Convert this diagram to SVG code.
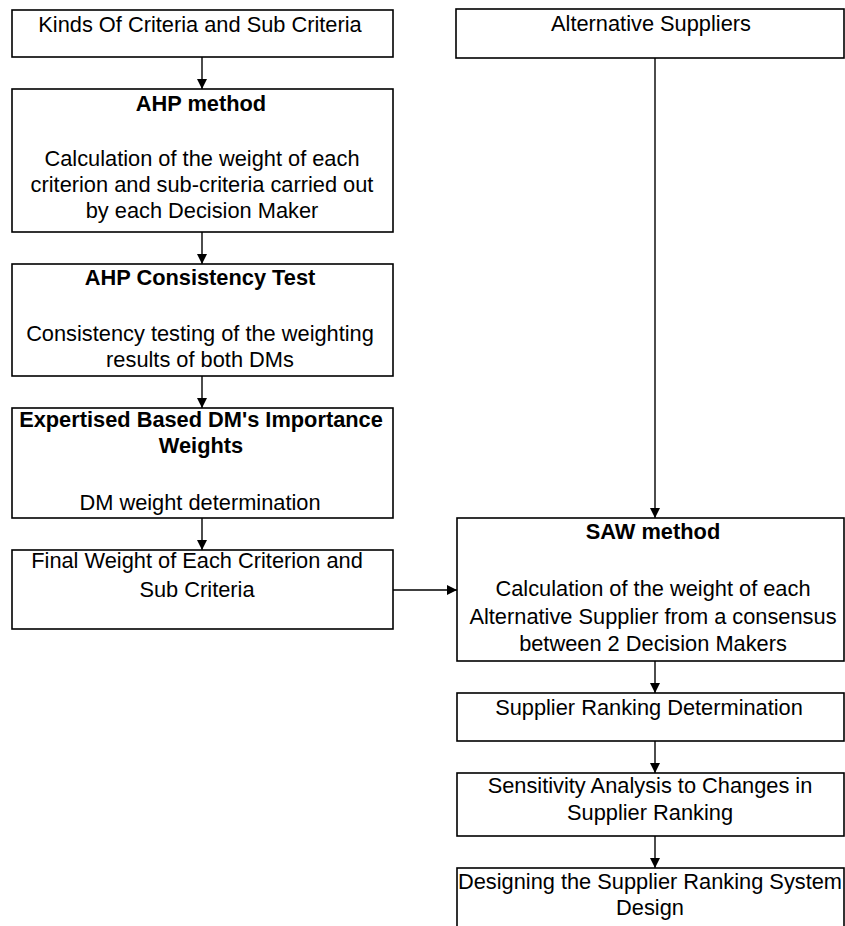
<svg xmlns="http://www.w3.org/2000/svg" width="845" height="926" viewBox="0 0 845 926">
<style>
.box{fill:#fff;stroke:#000;stroke-width:1.6}
.t{font-family:"Liberation Sans",Arial,sans-serif;font-size:21.8px;fill:#000;text-anchor:middle}
.b{font-weight:bold}
.c{fill:none;stroke:#000;stroke-width:1.4}
</style>
<defs>
<marker id="ah" viewBox="0 0 10 10" refX="10" refY="5" markerWidth="10" markerHeight="10" markerUnits="userSpaceOnUse" orient="auto">
<path d="M0,0 L10,5 L0,10 Z" fill="#000"/>
</marker>
</defs>
<rect width="845" height="926" fill="#fff"/>
<g id="connectors">
<line class="c" x1="202" y1="57" x2="202" y2="89" marker-end="url(#ah)"/>
<line class="c" x1="202" y1="232" x2="202" y2="264" marker-end="url(#ah)"/>
<line class="c" x1="202" y1="376" x2="202" y2="408" marker-end="url(#ah)"/>
<line class="c" x1="202" y1="518" x2="202" y2="550" marker-end="url(#ah)"/>
<line class="c" x1="393" y1="590" x2="457" y2="590" marker-end="url(#ah)"/>
<line class="c" x1="655" y1="58" x2="655" y2="518" marker-end="url(#ah)"/>
<line class="c" x1="655" y1="661" x2="655" y2="693" marker-end="url(#ah)"/>
<line class="c" x1="655" y1="741" x2="655" y2="773" marker-end="url(#ah)"/>
<line class="c" x1="655" y1="836" x2="655" y2="868" marker-end="url(#ah)"/>
</g>
<g id="kinds">
<rect class="box" x="12" y="10" width="381" height="47"/>
<text class="t" x="200" y="32">Kinds Of Criteria and Sub Criteria</text>
</g>
<g id="ahp">
<rect class="box" x="12" y="89" width="381" height="143"/>
<text class="t b" x="201" y="111">AHP method</text>
<text class="t" x="202" y="166">Calculation of the weight of each</text>
<text class="t" x="202" y="192">criterion and sub-criteria carried out</text>
<text class="t" x="202" y="218">by each Decision Maker</text>
</g>
<g id="consistency">
<rect class="box" x="12" y="264" width="381" height="112"/>
<text class="t b" x="200" y="285">AHP Consistency Test</text>
<text class="t" x="200" y="341">Consistency testing of the weighting</text>
<text class="t" x="200" y="367">results of both DMs</text>
</g>
<g id="expertise">
<rect class="box" x="12" y="408" width="381" height="110"/>
<text class="t b" x="201" y="427">Expertised Based DM's Importance</text>
<text class="t b" x="201" y="453">Weights</text>
<text class="t" x="200" y="510">DM weight determination</text>
</g>
<g id="final">
<rect class="box" x="12" y="550" width="381" height="79"/>
<text class="t" x="197" y="568">Final Weight of Each Criterion and</text>
<text class="t" x="197" y="597">Sub Criteria</text>
</g>
<g id="alternatives">
<rect class="box" x="456" y="9" width="388" height="49"/>
<text class="t" x="651" y="31">Alternative Suppliers</text>
</g>
<g id="saw">
<rect class="box" x="457" y="518" width="387" height="143"/>
<text class="t b" x="653" y="539">SAW method</text>
<text class="t" x="653" y="596">Calculation of the weight of each</text>
<text class="t" x="653" y="624">Alternative Supplier from a consensus</text>
<text class="t" x="653" y="651">between 2 Decision Makers</text>
</g>
<g id="ranking">
<rect class="box" x="457" y="693" width="387" height="48"/>
<text class="t" x="649" y="715">Supplier Ranking Determination</text>
</g>
<g id="sensitivity">
<rect class="box" x="457" y="773" width="387" height="63"/>
<text class="t" x="650" y="793">Sensitivity Analysis to Changes in</text>
<text class="t" x="650" y="820">Supplier Ranking</text>
</g>
<g id="designing">
<rect class="box" x="457" y="868" width="387" height="70"/>
<text class="t" x="650" y="889">Designing the Supplier Ranking System</text>
<text class="t" x="650" y="915">Design</text>
</g>
</svg>
